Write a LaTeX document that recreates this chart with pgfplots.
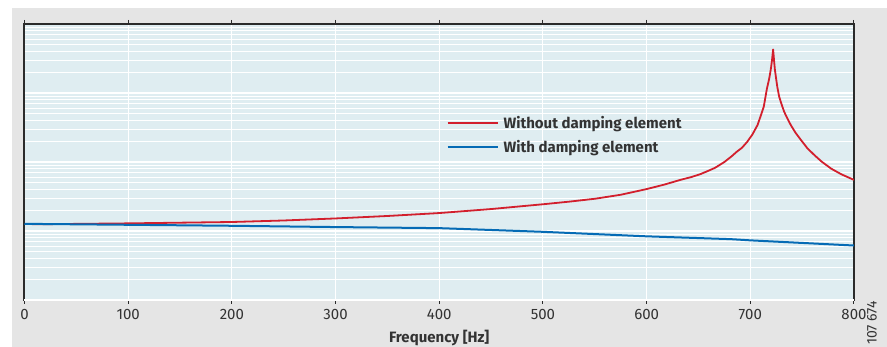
\documentclass[border=0pt]{standalone}
\usepackage{pgfplots}
\pgfplotsset{compat=1.18}
\usepackage{fontspec}
\setmainfont{Fira Sans}
\definecolor{bgblue}{HTML}{DFEDF1}
\definecolor{panel}{HTML}{E5E5E5}
\definecolor{cred}{HTML}{D21F2D}
\definecolor{cblue}{HTML}{056BB5}
\definecolor{frame}{HTML}{2B2B2B}
\definecolor{txt}{HTML}{333333}

\begin{document}
\begin{tikzpicture}
\useasboundingbox (-24.5pt,-47pt) rectangle (862.5pt,300pt);
\fill[white] (-24.5pt,-47pt) rectangle (862.5pt,300pt);
\fill[panel] (-12.5pt,-47pt) rectangle (862.5pt,292pt);
\begin{axis}[
  at={(0pt,0pt)}, anchor=south west,
  scale only axis, width=829.5pt, height=276pt,
  xmin=0, xmax=800, ymode=log, ymin=1, ymax=10000,
  xtick={0,100,...,800},
  tick align=outside,
  major tick length=4pt,
  x tick style={frame, line width=1pt},
  y tick style={draw=none},
  yticklabels={},
  extra y ticks={1},
  extra y tick labels={},
  extra y tick style={major tick length=7pt, tick style={draw=frame, line width=1pt}},
  axis background/.style={fill=bgblue},
  axis line style={frame, line width=2pt},
  xmajorgrids, ymajorgrids, yminorgrids,
  major grid style={white, line width=1.1pt},
  minor grid style={white, line width=1pt},
  /pgf/number format/assume math mode=true,
  tick label style={font=\fontsize{15}{18}\selectfont, text=txt},
  xticklabel style={yshift=-2pt},
  xlabel={Frequency [Hz]},
  xlabel style={font=\fontsize{15}{18}\selectfont\bfseries, text=txt, yshift=-3pt},
  legend style={draw=none, fill=none, at={(0.505,0.682)}, anchor=north west,
    font=\fontsize{15}{18}\selectfont\bfseries, text=txt, row sep=7pt,
    nodes={inner xsep=5pt}},
  legend cell align=left,
  legend image code/.code={\draw[#1, line width=2pt] (0pt,0pt) -- (50pt,0pt);},
]
\addplot[cred, line width=1.8pt, line join=round] table {
x y
7 12.5
100 12.9
200 13.5
250 14.2
300 15.2
350 16.5
400 18.2
450 20.8
500 24.4
525 26.6
550 29.3
575 33.5
600 40.5
617 47
633 55.3
643 60.4
652 66.8
659 74
666 82.3
675 100
682 121
687 141
692 161
697 196
702 250
707 344
710 465
713 635
716 1152
718 1560
719 1876
720 2333
721 3055
722 4276
723 2853
723.7 2183
724.6 1742
726 1233
727.8 889
730 696
732.6 537
735.5 435
739 344
743.5 267
749 207
755 158.5
762 125
769 100.7
778 80.1
788 66.1
800 55
};
\addlegendentry{Without damping element}
\addplot[cblue, line width=2pt, line join=round] table {
x y
0 12.7
100 12.3
200 11.9
300 11.4
400 11.0
500 9.73
600 8.37
681 7.62
700 7.32
800 6.16
};
\addlegendentry{With damping element}
\end{axis}
\node[rotate=90, font=\fontsize{14}{16}\selectfont, text=txt] at (847.5pt,-23pt) {107 674};
\end{tikzpicture}
\end{document}
